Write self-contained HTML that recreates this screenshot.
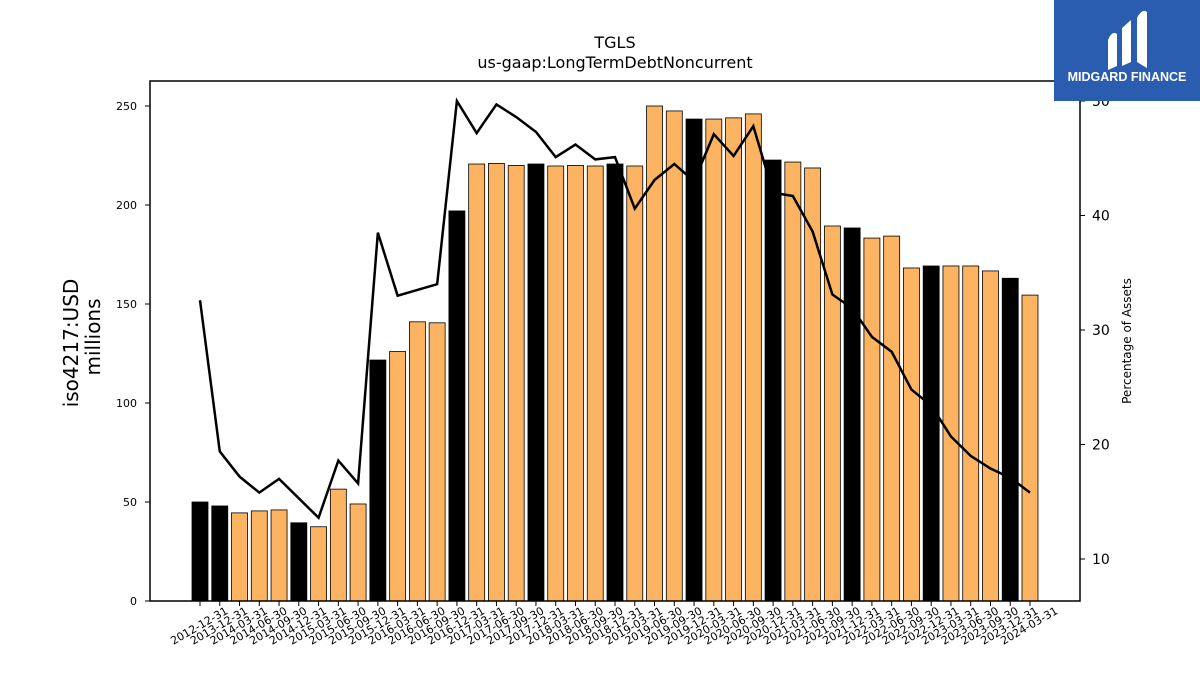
<!DOCTYPE html>
<html><head><meta charset="utf-8"><style>
body{margin:0;background:#fff;font-family:"Liberation Sans","DejaVu Sans",sans-serif}
</style></head><body>
<svg id="chart" width="1200" height="675" xmlns="http://www.w3.org/2000/svg" font-family="DejaVu Sans, Liberation Sans, sans-serif">
<rect width="1200" height="675" fill="#fff"/>
<text x="615" y="48" text-anchor="middle" font-size="16">TGLS</text>
<text x="615" y="68" text-anchor="middle" font-size="16">us-gaap:LongTermDebtNoncurrent</text>
<g id="bars"></g><g id="line"></g><g id="axes"></g>
<rect x="150" y="81" width="930" height="520" fill="none" stroke="#000" stroke-width="1.5"/>
<text transform="translate(78,343) rotate(-90)" text-anchor="middle" font-size="20">iso4217:USD</text>
<text transform="translate(100,337) rotate(-90)" text-anchor="middle" font-size="20">millions</text>
<text transform="translate(1131,341) rotate(-90)" text-anchor="middle" font-size="12">Percentage of Assets</text>
<g>
<rect x="1054" y="0" width="146" height="101" fill="#2a5db0"/>
<path d="M1108 70 L1108 40 Q1112 30 1117 34 L1117 66 Z M1122 66 L1122 28 L1131 20 L1131 62 Z M1137 62 L1137 18 Q1142 8 1147 12 L1147 68 Z" fill="#fff"/>
<text x="1127" y="81" text-anchor="middle" font-size="12.5" font-weight="bold" fill="#fff" font-family="Liberation Sans, sans-serif">MIDGARD FINANCE</text>
</g>
</svg>
<script>
const labels=["2012-12-31","2013-12-31","2014-03-31","2014-06-30","2014-09-30","2014-12-31","2015-03-31","2015-06-30","2015-09-30","2015-12-31","2016-03-31","2016-06-30","2016-09-30","2016-12-31","2017-03-31","2017-06-30","2017-09-30","2017-12-31","2018-03-31","2018-06-30","2018-09-30","2018-12-31","2019-03-31","2019-06-30","2019-09-30","2019-12-31","2020-03-31","2020-06-30","2020-09-30","2020-12-31","2021-03-31","2021-06-30","2021-09-30","2021-12-31","2022-03-31","2022-06-30","2022-09-30","2022-12-31","2023-03-31","2023-06-30","2023-09-30","2023-12-31","2024-03-31"];
const debt=[50,48,44.5,45.5,46,39.5,37.5,56.5,49,121.7,126,141,140.5,197,220.7,221,220,220.7,219.7,220,219.7,220.7,219.7,250,247.5,243.4,243.4,244,246,222.7,221.7,218.7,189.4,188.4,183.3,184.3,168.2,169.2,169.2,169.2,166.7,163,154.5];
const pct=[32.6,19.4,17.2,15.8,17.0,15.3,13.6,18.6,16.6,38.5,33.0,33.5,34.0,50,47.2,49.7,48.6,47.3,45.1,46.2,44.9,45.1,40.6,43.1,44.5,43.0,47.1,45.2,47.8,42.0,41.7,38.6,33.1,31.9,29.4,28.1,24.8,23.4,20.7,19.0,17.9,17.1,15.8];
const leftTicks=[0,50,100,150,200,250];
const rightTicks=[10,20,30,40,50];
const NS="http://www.w3.org/2000/svg";
const xs=i=>200+i*(830/(labels.length-1));
const yl=v=>601-v*1.98;
const yr=v=>559-(v-10)*11.45;
function mk(t,a,p){const e=document.createElementNS(NS,t);for(const k in a)e.setAttribute(k,a[k]);p.appendChild(e);return e;}
const bars=document.getElementById('bars'),line=document.getElementById('line'),axes=document.getElementById('axes');
debt.forEach((v,i)=>{const ye=labels[i].endsWith('12-31');
const r=mk('rect',{x:xs(i)-8,y:yl(v),width:16,height:yl(0)-yl(v),fill:ye?'#000':'#fdb462',stroke:'#000','stroke-width':0.8},bars);


const tk=mk('line',{x1:xs(i),x2:xs(i),y1:601,y2:606,stroke:'#000'},axes);


const t=mk('text',{transform:`translate(${xs(i)+1},${629}) rotate(-30)`,'text-anchor':'middle','font-size':11},axes);
t.textContent=labels[i];

});
const pl=mk('polyline',{points:pct.map((v,i)=>xs(i)+','+yr(v)).join(' '),fill:'none',stroke:'#000','stroke-width':2.5},line);


leftTicks.forEach(v=>{const l=mk('line',{x1:145,x2:150,y1:yl(v),y2:yl(v),stroke:'#000'},axes);


const t=mk('text',{x:137,y:yl(v)+4,'text-anchor':'end','font-size':11},axes);t.textContent=v;

});
rightTicks.forEach(v=>{const l=mk('line',{x1:1080,x2:1085,y1:yr(v),y2:yr(v),stroke:'#000'},axes);


const t=mk('text',{x:1092,y:yr(v)+5,'font-size':14},axes);t.textContent=v;

});
</script>
</body></html>
